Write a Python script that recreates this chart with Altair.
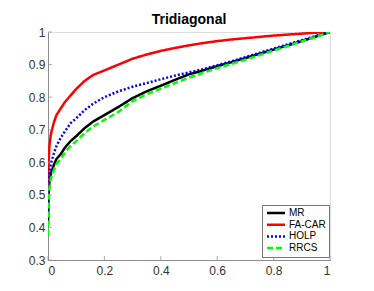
import altair as alt
import pandas as pd

xs = [0, 0.002, 0.005, 0.01, 0.02, 0.03, 0.045, 0.06, 0.08, 0.1, 0.13, 0.16, 0.2,
      0.25, 0.3, 0.35, 0.4, 0.45, 0.5, 0.55, 0.6, 0.65, 0.7, 0.75, 0.8, 0.85, 0.9, 0.95, 1.0]
mr = [0.41, 0.5, 0.54, 0.565, 0.59, 0.61, 0.625, 0.645, 0.665, 0.68, 0.705, 0.725, 0.745,
      0.77, 0.797, 0.818, 0.835, 0.853, 0.87, 0.882, 0.895, 0.907, 0.92, 0.933, 0.946, 0.959, 0.972, 0.986, 1.0]
facar = [0.5, 0.6, 0.65, 0.685, 0.72, 0.745, 0.765, 0.785, 0.805, 0.825, 0.85, 0.868, 0.882,
         0.9, 0.918, 0.931, 0.942, 0.951, 0.959, 0.966, 0.972, 0.977, 0.981, 0.985, 0.989, 0.992, 0.995, 0.998, 1.0]
holp = [0.44, 0.53, 0.57, 0.595, 0.625, 0.65, 0.675, 0.695, 0.72, 0.735, 0.76, 0.78, 0.80,
        0.818, 0.832, 0.843, 0.855, 0.866, 0.876, 0.886, 0.898, 0.91, 0.923, 0.936, 0.949, 0.962, 0.975, 0.988, 1.0]
rrcs = [0.375, 0.47, 0.52, 0.55, 0.575, 0.595, 0.61, 0.63, 0.65, 0.665, 0.69, 0.71, 0.73,
        0.755, 0.788, 0.809, 0.826, 0.843, 0.86, 0.875, 0.889, 0.902, 0.915, 0.929, 0.943, 0.957, 0.971, 0.985, 1.0]

series = ["MR", "FA-CAR", "HOLP", "RRCS"]
colors = ["#000000", "#ff0000", "#0000ff", "#00ff00"]
dashes = [[1, 0], [1, 0], [2, 2], [6, 3]]
xticks = [0, 0.2, 0.4, 0.6, 0.8, 1]
yticks = [0.3, 0.4, 0.5, 0.6, 0.7, 0.8, 0.9, 1]

rows = []
for name, ys in zip(series, [mr, facar, holp, rrcs]):
    for i, (x, y) in enumerate(zip(xs, ys)):
        rows.append({"x": x, "y": y, "series": name, "order": i})
df = pd.DataFrame(rows)

xscale = alt.Scale(domain=[0, 1], nice=False)
yscale = alt.Scale(domain=[0.3, 1], nice=False)
font = "Liberation Sans"

xaxis = alt.Axis(values=xticks, title=None, grid=False, ticks=False, domainColor="#8c8c8c",
                 labelColor="#333333", labelFontSize=12, labelFont=font, labelPadding=5,
                 format="~g", labelOverlap=False)
yaxis = alt.Axis(values=yticks, title=None, grid=False, ticks=False, domainColor="#8c8c8c",
                 labelColor="#333333", labelFontSize=12, labelFont=font, labelPadding=3,
                 format="~g", labelOverlap=False, tickCount=8)

lines = alt.Chart(df).mark_line(strokeWidth=2.5, clip=True).encode(
    x=alt.X("x:Q", scale=xscale, axis=xaxis),
    y=alt.Y("y:Q", scale=yscale, axis=yaxis),
    color=alt.Color("series:N", scale=alt.Scale(domain=series, range=colors),
                    legend=alt.Legend(title=None, orient="none", legendX=214, legendY=173,
                                      symbolType="M-3,0H3", symbolSize=36, symbolStrokeWidth=2.5,
                                      symbolFillColor="transparent", symbolOffset=6,
                                      labelFont=font, labelFontSize=10, labelColor="#000000",
                                      labelOffset=8, rowPadding=1.7, padding=3,
                                      strokeColor="#777777", fillColor="white")),
    strokeDash=alt.StrokeDash("series:N", scale=alt.Scale(domain=series, range=dashes)),
    order="order:Q",
)

xt = alt.Chart(pd.DataFrame({"x": xticks, "y": [0.3] * len(xticks)})).mark_tick(
    orient="vertical", size=4, yOffset=-2, color="#8c8c8c", thickness=1).encode(
    x=alt.X("x:Q", scale=xscale, axis=xaxis), y=alt.Y("y:Q", scale=yscale, axis=yaxis))
yt = alt.Chart(pd.DataFrame({"y": yticks, "x": [0] * len(yticks)})).mark_tick(
    orient="horizontal", size=4, xOffset=2, color="#8c8c8c", thickness=1).encode(
    y=alt.Y("y:Q", scale=yscale, axis=yaxis), x=alt.X("x:Q", scale=xscale, axis=xaxis))

chart = alt.layer(lines, xt, yt).properties(
    width=282, height=228,
    title=alt.TitleParams("Tridiagonal", font=font, fontSize=14, fontWeight="bold",
                          color="#000000", anchor="middle", offset=-1),
    autosize=alt.AutoSizeParams(type="none"),
    padding={"left": 40, "top": 24, "right": 20, "bottom": 22},
).configure_view(stroke=None).configure(background="white")

chart.save("out.html", embed_options={"renderer": "svg", "actions": False})
